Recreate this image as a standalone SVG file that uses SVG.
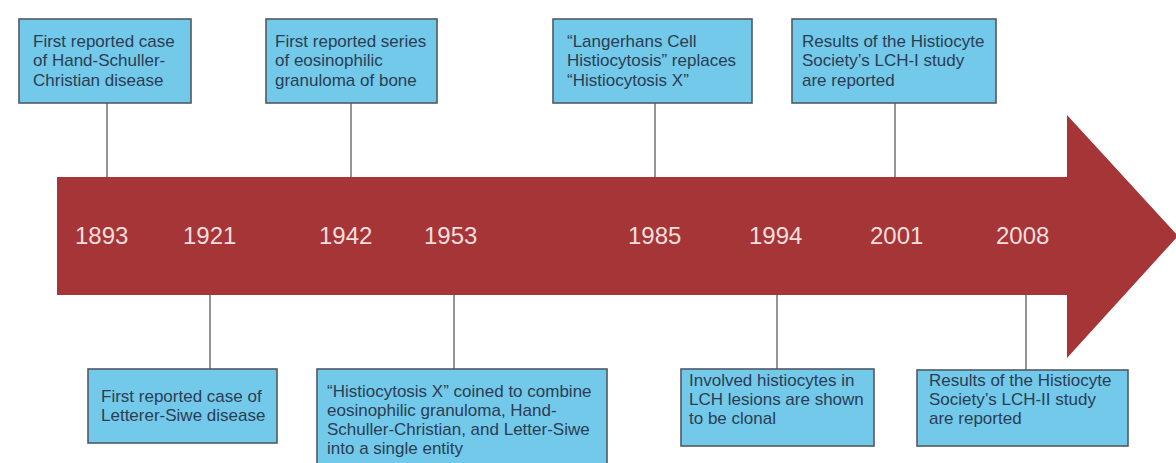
<svg xmlns="http://www.w3.org/2000/svg" width="1176" height="463" viewBox="0 0 1176 463">
<style>
.box{fill:#72c9ea;stroke:#4f5a63;stroke-width:1.6}
.t{font-family:"Liberation Sans",Arial,sans-serif;font-size:17px;fill:#2c3d52}
.yr{font-family:"Liberation Sans",Arial,sans-serif;font-size:24px;fill:#f6dede}
.ln{stroke:#7a7a7a;stroke-width:1.6;fill:none}
</style>
<rect width="1176" height="463" fill="#ffffff"/>
<g id="connectors">
<line class="ln" x1="107" y1="103" x2="107" y2="178"/>
<line class="ln" x1="351" y1="103" x2="351" y2="178"/>
<line class="ln" x1="655" y1="103" x2="655" y2="178"/>
<line class="ln" x1="895" y1="103" x2="895" y2="178"/>
<line class="ln" x1="210" y1="294" x2="210" y2="369"/>
<line class="ln" x1="454" y1="294" x2="454" y2="369"/>
<line class="ln" x1="777" y1="294" x2="777" y2="369"/>
<line class="ln" x1="1026" y1="294" x2="1026" y2="370"/>
</g>
<g id="timeline">
<polygon points="57,177 1067,177 1067,115 1178,236 1067,358 1067,295 57,295" fill="#a53536"/>
<text class="yr" x="75" y="244">1893</text>
<text class="yr" x="183" y="244">1921</text>
<text class="yr" x="319" y="244">1942</text>
<text class="yr" x="424" y="244">1953</text>
<text class="yr" x="628" y="244">1985</text>
<text class="yr" x="749" y="244">1994</text>
<text class="yr" x="870" y="244">2001</text>
<text class="yr" x="996" y="244">2008</text>
</g>
<g id="n1893">
<rect class="box" x="19" y="19" width="172" height="84"/>
<text class="t" x="33" y="47">First reported case</text>
<text class="t" x="33" y="66">of Hand-Schuller-</text>
<text class="t" x="33" y="86">Christian disease</text>
</g>
<g id="n1942">
<rect class="box" x="266" y="19" width="171" height="84"/>
<text class="t" x="275" y="47">First reported series</text>
<text class="t" x="275" y="66">of eosinophilic</text>
<text class="t" x="275" y="86">granuloma of bone</text>
</g>
<g id="n1985">
<rect class="box" x="553" y="19" width="199" height="84"/>
<text class="t" x="567" y="47">“Langerhans Cell</text>
<text class="t" x="567" y="66">Histiocytosis” replaces</text>
<text class="t" x="567" y="86">“Histiocytosis X”</text>
</g>
<g id="n2001">
<rect class="box" x="792" y="19" width="204" height="84"/>
<text class="t" x="802" y="47">Results of the Histiocyte</text>
<text class="t" x="802" y="66">Society’s LCH-I study</text>
<text class="t" x="802" y="86">are reported</text>
</g>
<g id="n1921">
<rect class="box" x="88" y="369" width="189" height="74"/>
<text class="t" x="101" y="402">First reported case of</text>
<text class="t" x="101" y="421">Letterer-Siwe disease</text>
</g>
<g id="n1953">
<rect class="box" x="317" y="369" width="290" height="100"/>
<text class="t" x="327" y="397">“Histiocytosis X” coined to combine</text>
<text class="t" x="327" y="416">eosinophilic granuloma, Hand-</text>
<text class="t" x="327" y="435">Schuller-Christian, and Letter-Siwe</text>
<text class="t" x="327" y="454">into a single entity</text>
</g>
<g id="n1994">
<rect class="box" x="681" y="369" width="193" height="77"/>
<text class="t" x="689" y="386">Involved histiocytes in</text>
<text class="t" x="689" y="405">LCH lesions are shown</text>
<text class="t" x="689" y="424">to be clonal</text>
</g>
<g id="n2008">
<rect class="box" x="917" y="370" width="211" height="76"/>
<text class="t" x="929" y="386">Results of the Histiocyte</text>
<text class="t" x="929" y="405">Society’s LCH-II study</text>
<text class="t" x="929" y="424">are reported</text>
</g>
</svg>
